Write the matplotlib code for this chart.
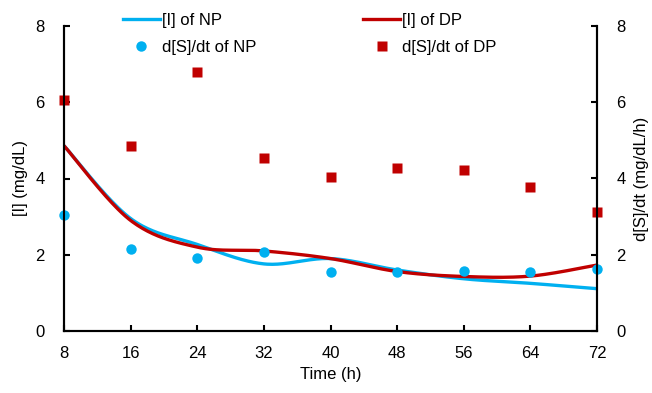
import numpy as np
import matplotlib
matplotlib.use("Agg")
import matplotlib.pyplot as plt
from matplotlib.lines import Line2D

plt.rcParams['font.family'] = ['Liberation Sans', 'DejaVu Sans']
plt.rcParams['font.size'] = 12

# dados
time_h = [8, 16, 24, 32, 40, 48, 56, 64, 72]
i_np = [4.86, 2.95, 2.27, 1.76, 1.90, 1.60, 1.37, 1.25, 1.11]
i_dp = [4.86, 2.90, 2.20, 2.10, 1.90, 1.56, 1.43, 1.44, 1.73]
ds_np = [3.04, 2.14, 1.91, 2.08, 1.56, 1.56, 1.58, 1.56, 1.62]
ds_dp = [6.05, 4.86, 6.79, 4.54, 4.05, 4.27, 4.22, 3.77, 3.13]

COR_NP = '#00B0F0'
COR_DP = '#C00000'


def suavizar(x, y, n=40):
    """Curva suavizada estilo Excel (Bezier / Catmull-Rom)."""
    pts = np.column_stack([x, y]).astype(float)
    p = np.vstack([pts[0], pts, pts[-1]])
    t = np.linspace(0, 1, n)[:, None]
    partes = []
    for i in range(1, len(p) - 2):
        p0, p1, p2, p3 = p[i - 1], p[i], p[i + 1], p[i + 2]
        c1 = p1 + (p2 - p0) / 6
        c2 = p2 - (p3 - p1) / 6
        seg = (1 - t) ** 3 * p1 + 3 * (1 - t) ** 2 * t * c1 + 3 * (1 - t) * t ** 2 * c2 + t ** 3 * p2
        partes.append(seg)
    curva = np.vstack(partes)
    return curva[:, 0], curva[:, 1]


fig = plt.figure(figsize=(6.52, 3.93), dpi=100)
ax = fig.add_axes([64 / 652, 1 - 331 / 393, 533 / 652, 305 / 393])
ax2 = ax.twinx()

xs, ys = suavizar(time_h, i_np)
ax.plot(xs, ys, color=COR_NP, lw=2.4, solid_capstyle='butt')
xs, ys = suavizar(time_h, i_dp)
ax.plot(xs, ys, color=COR_DP, lw=2.4, solid_capstyle='butt')

ax2.plot(time_h, ds_np, 'o', color=COR_NP, ms=7.5, mec='none', clip_on=False)
ax2.plot(time_h, ds_dp, 's', color=COR_DP, ms=7, mec='none', clip_on=False)

for a in (ax, ax2):
    a.set_xlim(8, 72)
    a.set_ylim(0, 8)
    a.set_yticks([0, 2, 4, 6, 8])
    a.spines['top'].set_visible(False)
    for s in ('left', 'right', 'bottom'):
        a.spines[s].set_linewidth(1.5)
    a.tick_params(direction='in', length=4, width=1.5, labelsize=12, pad=14)

ax.set_xticks(time_h)
ax.tick_params(axis='x', pad=11)
ax.set_xlabel('Time (h)', labelpad=4)
ax.set_ylabel('[I] (mg/dL)', labelpad=5)
ax2.set_ylabel('d[S]/dt (mg/dL/h)', labelpad=6)

handles = [
    Line2D([], [], color=COR_NP, lw=2.4),
    Line2D([], [], color=COR_NP, marker='o', ls='none', ms=7.5, mec='none'),
    Line2D([], [], color=COR_DP, lw=2.4),
    Line2D([], [], color=COR_DP, marker='s', ls='none', ms=7, mec='none'),
]
labels = ['[I] of NP', 'd[S]/dt of NP', '[I] of DP', 'd[S]/dt of DP']
fig.legend(handles, labels, ncol=2, loc='upper left', bbox_to_anchor=(123 / 652, 1 - 13 / 393),
           frameon=False, borderpad=0, borderaxespad=0, handlelength=2.2, handletextpad=0.15,
           columnspacing=6.4, labelspacing=0.72, fontsize=12)

fig.savefig('out.png', dpi=100)
